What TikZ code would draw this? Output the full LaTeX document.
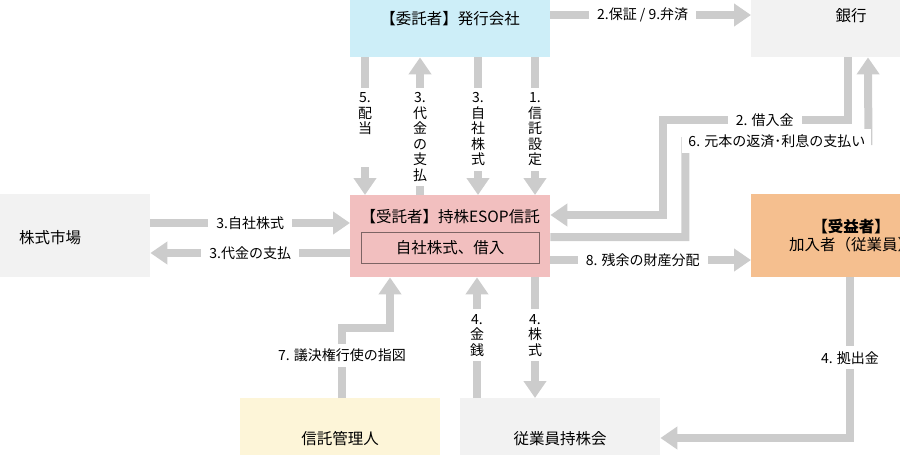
\documentclass[tikz,border=0pt]{standalone}
\usepackage{fontspec}
\setmainfont{Noto Sans CJK JP}
\usetikzlibrary{arrows.meta}

\definecolor{arrowgray}{RGB}{204,204,204}
\definecolor{issuerblue}{RGB}{205,238,248}
\definecolor{boxgray}{RGB}{242,242,242}
\definecolor{trustpink}{RGB}{242,191,191}
\definecolor{benefcolor}{RGB}{245,191,143}
\definecolor{adminyellow}{RGB}{253,245,216}
\definecolor{innerline}{RGB}{125,100,100}

\begin{document}
\begin{tikzpicture}[x=1pt,y=-1pt,
	box/.style={anchor=north west,minimum width=200pt,inner sep=0pt,font=\fontsize{15.5}{18}\selectfont},
	flow/.style={draw=arrowgray,line width=8pt,-{Triangle[width=22pt,length=17pt]}},
	lbl/.style={fill=white,text=black,inner xsep=8pt,inner ysep=5pt,font=\fontsize{14}{16}\selectfont},
	vlbl/.style={lbl,align=center,anchor=north,inner xsep=4pt,inner ysep=5pt,font=\fontsize{14}{15.5}\selectfont}]
	\useasboundingbox (0,0) rectangle (900,455);
	\clip (0,0) rectangle (900,455);
	% boxes
	\node[box,fill=issuerblue,text height=24pt,text depth=33pt] (issuer) at (350,0) {【委託者】発行会社};
	\node[box,fill=boxgray,text height=21pt,text depth=36pt] (bank) at (751,0) {銀行};
	\node[box,fill=boxgray,text height=49pt,text depth=34pt] (market) at (-50,194) {株式市場};
	\node[box,fill=trustpink,text height=27pt,text depth=55pt] (trust) at (350,195) {【受託者】持株ESOP信託};
	\node[draw=innerline,minimum width=178pt,minimum height=31pt,inner sep=0pt,font=\fontsize{15.5}{18}\selectfont] (trustin) at ([yshift=-52.5pt]trust.north) {自社株式、借入};
	\node[box,fill=benefcolor,minimum height=83pt,align=center] (benef) at (751,194) {{\bfseries 【受益者】}\\加入者（従業員）};
	\node[box,fill=adminyellow,text height=46pt,text depth=11pt] (admin) at (240,398) {信託管理人};
	\node[box,fill=boxgray,text height=46pt,text depth=11pt] (esop) at (460,398) {従業員持株会};

	% arrows, top
	\draw[flow] ([yshift=-15pt]issuer.north east) -- node[lbl,pos=0.46] {2.保証 / 9.弁済} ([yshift=-15pt]bank.north west);
	\draw[flow] ([xshift=15pt]issuer.south west) -- node[vlbl,pos=0.19] {5.\\配\\当\\\rule{0pt}{26pt}} ([xshift=15pt]trust.north west);
	\draw[flow] ([xshift=70pt]trust.north west) -- node[vlbl,pos=0.81] {3.\\代\\金\\の\\支\\払} ([xshift=70pt]issuer.south west);
	\draw[flow] ([xshift=128pt]issuer.south west) -- node[vlbl,pos=0.19] {3.\\自\\社\\株\\式} ([xshift=128pt]trust.north west);
	\draw[flow] ([xshift=185pt]issuer.south west) -- node[vlbl,pos=0.19] {1.\\信\\託\\設\\定} ([xshift=185pt]trust.north west);

	% bank and trust
	\draw[flow] ([xshift=97pt]bank.south west) -- ++(0,63) -- node[lbl,pos=0.45] {2. 借入金} ++(-185,0) |- ([yshift=-20pt]trust.north east);
	\draw[flow] ([yshift=-42pt]trust.north east) -- ++(135,0) -- ++(0,-96) -- node[lbl,inner xsep=6pt] {6. 元本の返済･利息の支払い} ++(183,0) -- ([xshift=117pt]bank.south west);

	% market
	\draw[flow] ([yshift=-29pt]market.north east) -- node[lbl] {3.自社株式} ([yshift=-28pt]trust.north west);
	\draw[flow] ([yshift=-58pt]trust.north west) -- node[lbl] {3.代金の支払} ([yshift=-59pt]market.north east);

	% beneficiary
	\draw[flow] ([yshift=-65pt]trust.north east) -- node[lbl,pos=0.46] {8. 残余の財産分配} ([yshift=-66pt]benef.north west);
	\draw[flow] ([xshift=99pt]benef.south west) |- node[lbl,pos=0.25] {4. 拠出金} ([yshift=-40pt]esop.north east);

	% bottom
	\draw[flow] ([xshift=102pt]admin.north west) -- node[lbl,pos=0.61] {7. 議決権行使の指図} ++(0,-70) -| ([xshift=40pt]trust.south west);
	\draw[flow] ([xshift=17pt]esop.north west) -- node[vlbl,pos=0.77] {4.\\金\\銭} ([xshift=127pt]trust.south west);
	\draw[flow] ([xshift=185pt]trust.south west) -- node[vlbl,pos=0.23] {4.\\株\\式} ([xshift=75pt]esop.north west);
\end{tikzpicture}
\end{document}
